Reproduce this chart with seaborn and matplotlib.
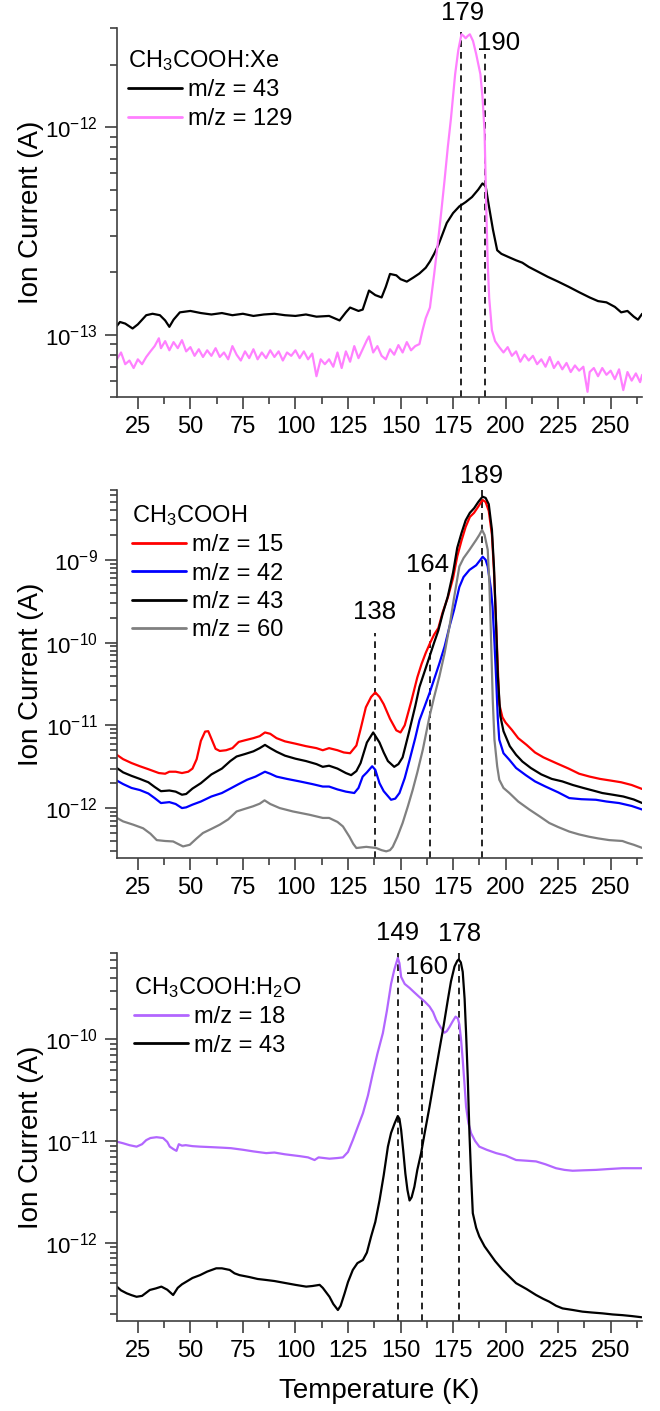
import matplotlib
matplotlib.use("Agg")
import matplotlib.pyplot as plt
import seaborn as sns
import numpy as np
from matplotlib.ticker import MultipleLocator, LogLocator, NullFormatter

# ---- panel 1: CH3COOH:Xe ----
xe_t43 = [15, 16.5, 19, 22.5, 25, 29, 32, 35.5, 38, 40, 42, 45, 50, 55, 60, 65, 70, 75, 80, 85, 90, 95,
          100, 105, 110, 116, 121, 124, 126, 130, 132, 135, 138, 141, 143, 145, 148, 150, 153, 156, 159,
          162, 164, 166, 168, 170, 172, 175, 178, 181, 184, 187, 189, 190.5, 192, 194, 196, 198, 202, 205,
          208, 211, 215, 220, 225, 230, 235, 240, 244, 248, 252, 255, 258, 261, 263, 265]
xe_i43 = [1.10, 1.15, 1.13, 1.07, 1.12, 1.24, 1.26, 1.24, 1.17, 1.09, 1.18, 1.28, 1.30, 1.27, 1.25, 1.27,
          1.24, 1.26, 1.23, 1.25, 1.26, 1.24, 1.23, 1.25, 1.22, 1.23, 1.17, 1.28, 1.35, 1.30, 1.32, 1.63,
          1.55, 1.51, 1.70, 1.96, 1.93, 1.85, 1.80, 1.88, 1.97, 2.10, 2.25, 2.45, 2.70, 3.05, 3.45, 3.85,
          4.15, 4.35, 4.6, 5.0, 5.35, 5.2, 4.2, 3.2, 2.55, 2.45, 2.35, 2.28, 2.22, 2.12, 2.02, 1.90, 1.80,
          1.70, 1.60, 1.51, 1.45, 1.43, 1.36, 1.28, 1.30, 1.22, 1.18, 1.26]  # x 1e-13

xe_t129 = [15, 17, 19, 21, 23, 25, 27, 29, 31, 33, 35, 36, 38, 40, 42, 44, 46, 48, 50, 52, 54, 56, 58, 60,
           62, 64, 66, 68, 70, 72, 74, 76, 78, 80, 82, 84, 86, 88, 90, 92, 94, 96, 98, 100, 102, 104, 106,
           108, 110, 112, 114, 116, 118, 120, 122, 124, 126, 128, 130, 132, 134, 135, 137, 139, 141, 143,
           145, 147, 149, 151, 153, 155, 157, 159, 160.5, 162, 164, 166, 168, 169.5, 171, 172.5, 174, 176,
           177.5, 179, 180, 181, 182, 183, 184.5, 186, 188, 189, 190, 190.7, 191.5, 192.2, 193.5, 195, 197,
           199, 201, 203, 205, 207, 209, 211, 213, 215, 217, 219, 221, 223, 225, 227, 229, 231, 233, 235,
           237, 239, 240, 242, 244, 246, 248, 250, 252, 254, 256, 258, 260, 262, 264, 265]
xe_i129 = [7.6, 8.2, 7.2, 7.5, 6.9, 7.6, 7.2, 7.8, 8.3, 8.8, 9.6, 8.6, 9.3, 8.4, 9.2, 8.6, 9.4, 8.3, 8.7,
           7.9, 8.5, 7.8, 8.4, 7.9, 8.6, 7.8, 8.2, 7.6, 8.8, 8.0, 7.5, 8.3, 7.7, 8.5, 7.6, 8.2, 7.7, 8.4,
           7.8, 8.3, 7.5, 8.2, 7.9, 8.4, 7.7, 8.3, 7.6, 8.1, 6.3, 7.6, 7.2, 7.6, 7.0, 8.2, 6.9, 8.3, 7.4,
           8.8, 7.7, 8.5, 9.4, 9.8, 8.2, 8.8, 7.9, 7.6, 8.5, 8.0, 8.9, 8.2, 9.2, 8.4, 8.8, 9.0, 10.5, 12.0,
           13.5, 19.5, 29, 40, 56, 80, 110, 180, 235, 280, 275, 268, 275, 280, 260, 225, 180, 140, 95, 45,
           22, 15, 10.5, 9.3, 8.7, 8.2, 8.7, 7.9, 8.3, 7.4, 8.0, 7.5, 7.9, 7.2, 7.6, 7.0, 7.8, 6.9, 7.4,
           6.8, 7.3, 6.6, 7.1, 6.7, 7.0, 5.3, 6.6, 6.9, 6.3, 6.9, 6.4, 6.7, 6.1, 6.8, 5.4, 6.6, 6.0, 6.5,
           5.9, 6.4]  # x 1e-14

# ---- panel 2: CH3COOH ----
ac_t15 = [15, 18, 22, 26, 30, 35, 38, 40, 43, 46, 49, 51, 53, 55, 57, 58.5, 60, 62, 64, 67, 70, 73, 76, 80,
          83, 85.5, 88, 91, 95, 100, 105, 110, 113, 116, 120, 123, 126, 129, 131, 133.5, 136, 138, 140, 142,
          145, 148, 150, 152, 155, 158, 160, 162, 164, 166, 168, 170, 172.5, 175, 177, 179, 181, 183, 185,
          187, 189, 190.5, 192, 193.5, 194.5, 195.5, 196.3, 197, 198.5, 200, 203, 206, 210, 214, 218, 224,
          230, 235, 240, 245, 250, 255, 260, 265]
ac_i15 = [4.4, 3.9, 3.5, 3.2, 2.95, 2.65, 2.6, 2.75, 2.75, 2.65, 2.75, 3.0, 3.9, 6.5, 8.4, 8.5, 6.9, 5.2, 4.9,
          5.0, 5.3, 6.3, 6.6, 7.0, 7.4, 8.2, 7.9, 7.0, 6.4, 6.0, 5.6, 5.3, 5.0, 5.3, 5.0, 4.7, 4.6, 5.7, 9.0,
          16.5, 22, 25, 22, 18, 12, 8.7, 8.2, 10, 19, 38, 55, 75, 98, 125, 150, 230, 350, 600, 1100, 1700,
          2500, 3300, 3700, 4400, 5300, 5000, 3900, 2000, 700, 170, 50, 18, 12.5, 10.8, 8.8, 7.0, 5.8, 4.7,
          4.1, 3.5, 3.0, 2.6, 2.4, 2.25, 2.15, 2.05, 1.9, 1.7]  # x 1e-12

ac_t42 = [15, 18, 22, 26, 30, 33, 36, 40, 43, 46, 48, 51, 55, 60, 65, 69, 73, 77, 81, 85.5, 88, 91, 96, 102,
          108, 113, 116, 120, 124, 128, 130, 132, 134, 136.5, 138, 140, 142, 145.5, 147.5, 149.5, 152, 154.3,
          157, 159, 161.5, 163.8, 166, 168.5, 171, 173.3, 175.5, 178, 180, 182.8, 186, 188, 189.1, 190.5,
          191.5, 193, 193.8, 194.7, 195.5, 196.3, 197, 199, 201.8, 205, 209.6, 214, 219, 225, 230.3, 236,
          243, 248, 254, 260, 265]
ac_i42 = [2.15, 1.95, 1.75, 1.65, 1.5, 1.32, 1.15, 1.18, 1.12, 1.0, 1.02, 1.1, 1.2, 1.38, 1.52, 1.72, 1.95,
          2.2, 2.4, 2.75, 2.6, 2.4, 2.25, 2.1, 1.95, 1.82, 1.82, 1.68, 1.58, 1.52, 1.75, 2.4, 2.7, 3.2, 2.9,
          2.0, 1.6, 1.26, 1.3, 1.52, 2.3, 3.8, 7.0, 11.5, 17, 24.5, 36, 56, 90, 156, 250, 470, 620, 755,
          860, 1000, 1090, 1000, 830, 450, 270, 100, 37, 12, 6.7, 4.6, 3.83, 3.05, 2.5, 2.1, 1.82, 1.55,
          1.32, 1.28, 1.26, 1.2, 1.15, 1.06, 0.96]  # x 1e-12

ac_t43 = [15, 18, 22, 26, 30, 33, 36, 40, 43, 46, 48, 51, 55, 60, 65, 69, 72, 76, 80, 83, 85.5, 88, 91, 95,
          100, 105, 110, 113, 116, 120, 124, 126.5, 129, 131, 134, 137, 140, 142, 144, 147, 149, 151, 154,
          157, 159, 161.5, 164, 166, 168, 170, 172.5, 175, 177, 179, 181, 183, 185, 187, 189, 190.5, 192,
          193.5, 194.5, 195.5, 196.3, 197.5, 199, 202, 205, 208, 212, 217, 222, 227, 232, 237, 242, 246,
          251, 256, 261, 265]
ac_i43 = [3.05, 2.7, 2.45, 2.25, 2.05, 1.8, 1.6, 1.63, 1.58, 1.45, 1.48, 1.72, 2.0, 2.55, 3.0, 3.7, 4.2, 4.5,
          4.85, 5.3, 5.8, 5.3, 4.8, 4.3, 3.95, 3.7, 3.4, 3.15, 3.25, 3.0, 2.65, 2.5, 2.8, 3.5, 6.2, 8.2, 6.2,
          4.7, 3.7, 3.15, 3.4, 4.1, 8.2, 17, 29, 45, 70, 100, 140, 220, 360, 700, 1400, 2100, 3000, 3700,
          4200, 5000, 5800, 5600, 4700, 2300, 800, 160, 40, 13, 8.5, 5.6, 4.4, 3.65, 3.05, 2.55, 2.25, 2.1,
          1.9, 1.75, 1.62, 1.52, 1.45, 1.38, 1.27, 1.15]  # x 1e-12

ac_t60 = [15, 18, 22.8, 27.5, 31, 34, 38, 41.8, 44, 46.5, 49.7, 53, 56, 60, 64, 68, 72, 76, 79.8, 83, 85.3,
          88, 92.5, 98.8, 106.7, 113, 116, 120, 122.6, 125.7, 127.5, 129, 133.7, 138.4, 141, 143.2, 145,
          146.3, 148.5, 151, 153.5, 155.8, 158, 160.6, 163.8, 166, 168.5, 171, 173.3, 175.5, 178, 180,
          182.8, 186, 187.5, 188.8, 190, 191.5, 192.3, 193.1, 193.9, 194.7, 196, 197, 199, 201.8, 206,
          211.3, 216, 220.8, 225, 230.3, 235, 239.8, 244, 249.3, 255.6, 258, 261, 265]
ac_i60 = [7.6, 6.9, 6.3, 5.7, 4.9, 4.1, 4.0, 3.95, 3.7, 3.44, 3.6, 4.3, 5.0, 5.6, 6.3, 7.3, 9.1, 9.8, 10.5,
          11.3, 12.4, 11.2, 10.0, 9.1, 8.3, 7.6, 7.6, 6.8, 6.0, 4.5, 3.7, 3.29, 3.4, 3.29, 3.1, 3.0, 3.1,
          3.4, 4.5, 6.6, 10.5, 16.6, 27, 50.6, 128, 220, 390, 750, 1560, 3500, 8300, 10500, 13200, 17400,
          20000, 23000, 20000, 13200, 5000, 1080, 200, 67, 32, 22, 17.5, 15.2, 12, 9.6, 8, 6.6, 5.9, 5.2,
          4.8, 4.5, 4.3, 4.1, 4.0, 3.8, 3.6, 3.3]  # x 1e-13

# ---- panel 3: CH3COOH:H2O ----
w_t18 = [15, 18, 21, 24.4, 27, 29, 31, 33.9, 37, 39, 40.2, 42, 43.4, 44, 44.5, 46, 47.8, 51, 54.6, 60, 65,
         69.3, 75, 80, 86.1, 90, 95, 102, 106, 109.1, 111, 116.2, 120, 122.6, 125, 127.3, 129.5, 132.1,
         134.5, 136.8, 139, 141.6, 143.5, 145.5, 147, 148.7, 149.5, 150.3, 152, 154.3, 156.5, 159, 161.5,
         163.8, 165.5, 167, 169, 170.9, 172, 173.3, 174.8, 176.2, 177.3, 178, 178.8, 179.6, 180.5, 181.2,
         182.3, 183.6, 185.5, 187.5, 191, 195.5, 200, 205, 210, 214.5, 219, 224, 228, 231.9, 237, 243, 249,
         255.6, 260, 265]
w_i18 = [9.85, 9.5, 9.1, 8.8, 9.3, 10.2, 10.7, 10.9, 10.7, 9.8, 8.8, 8.3, 8.0, 8.7, 9.3, 9.0, 9.1, 8.9, 8.8,
         8.7, 8.6, 8.5, 8.2, 7.9, 7.6, 7.7, 7.4, 7.1, 6.9, 6.5, 6.9, 6.7, 6.8, 6.9, 7.8, 10.2, 13.5, 18.7,
         28, 46, 72, 115, 190, 350, 480, 630, 560, 410, 350, 320, 290, 260, 235, 210, 185, 155, 132, 116,
         120, 132, 150, 167, 160, 140, 100, 63, 35, 21.7, 15, 11.9, 10, 8.8, 8.2, 7.6, 7.2, 6.5, 6.4, 6.3,
         5.9, 5.4, 5.2, 5.1, 5.15, 5.2, 5.3, 5.4, 5.4, 5.4]  # x 1e-12

w_t43 = [15, 17, 19.7, 22, 24.4, 27, 30.7, 33.5, 36.2, 39, 41.8, 44, 46, 48.1, 51, 54.6, 58, 62.3, 65, 68.7,
         71, 73.4, 78, 82, 86.1, 90, 95.6, 100, 105.1, 108, 111.5, 113, 116.2, 118, 120.2, 121.5, 123.4, 125,
         127.3, 129.5, 132.1, 134, 136, 138, 140, 142, 144, 145.5, 147.2, 148.7, 149.5, 150.3, 151.3, 152.3,
         153.3, 154.3, 155.3, 156.6, 158, 159.8, 161.5, 163.8, 166, 168.5, 170.5, 172.5, 174, 175.7, 177,
         177.7, 178.7, 179.6, 180.5, 181.2, 182, 182.8, 183.6, 184.4, 186, 187.5, 190, 192.3, 195, 198.6,
         202, 205, 210, 214.5, 218, 220.8, 224, 227.1, 232, 236.6, 241, 246.1, 251, 255.6, 260, 264.7]
w_i43 = [3.7, 3.4, 3.18, 3.05, 2.94, 3.0, 3.43, 3.55, 3.7, 3.45, 3.06, 3.6, 3.9, 4.14, 4.5, 4.8, 5.2, 5.6,
         5.6, 5.4, 5.0, 4.8, 4.6, 4.4, 4.3, 4.2, 4.0, 3.85, 3.7, 3.75, 3.85, 3.6, 2.94, 2.5, 2.18, 2.4, 3.18,
         4.1, 5.4, 6.3, 6.76, 8.0, 11.5, 16, 26, 46, 88, 120, 149, 176, 165, 128, 80, 48, 33, 26, 28, 35.5,
         52, 76, 120, 217, 400, 790, 1350, 2430, 3700, 5200, 5900, 6100, 5700, 4600, 2500, 1150, 420, 119,
         45, 19.5, 14, 11.5, 9.2, 7.9, 6.6, 5.4, 4.6, 4.0, 3.5, 3.06, 2.8, 2.63, 2.4, 2.26, 2.18, 2.1, 2.06,
         2.02, 1.97, 1.94, 1.9, 1.85]  # x 1e-13

# peak markers
xe_peaks = [179, 190]
ac_peaks = [138, 164, 189]
w_peaks = [149, 160, 178]

sns.set_theme(style="ticks")
plt.rcParams['font.family'] = ['Liberation Sans', 'DejaVu Sans']
plt.rcParams['mathtext.fontset'] = 'custom'
plt.rcParams['mathtext.rm'] = 'Liberation Sans'
plt.rcParams['mathtext.it'] = 'Liberation Sans:italic'
plt.rcParams['mathtext.bf'] = 'Liberation Sans:bold'
plt.rcParams['text.color'] = 'black'
plt.rcParams['axes.labelcolor'] = 'black'

spine_col = '#404040'

fig = plt.figure(figsize=(6.6, 14.11), dpi=100)
ax1 = fig.add_axes([0.177, 0.7186, 0.796, 0.2615])
ax2 = fig.add_axes([0.177, 0.392, 0.796, 0.2608])
ax3 = fig.add_axes([0.177, 0.0638, 0.796, 0.261])


def style_axis(ax, ylim):
    ax.set_yscale('log')
    ax.set_xlim(15, 265)
    ax.set_ylim(*ylim)
    ax.xaxis.set_major_locator(MultipleLocator(25))
    ax.xaxis.set_minor_locator(MultipleLocator(12.5))
    ax.yaxis.set_major_locator(LogLocator(base=10))
    ax.yaxis.set_minor_locator(LogLocator(base=10, subs=np.arange(2, 10)))
    ax.yaxis.set_minor_formatter(NullFormatter())
    for s in ['top', 'right']:
        ax.spines[s].set_visible(False)
    for s in ['left', 'bottom']:
        ax.spines[s].set_color(spine_col)
        ax.spines[s].set_linewidth(1.2)
    ax.tick_params(which='major', direction='out', length=8.5, width=1.2, color=spine_col,
                   labelcolor='black', pad=5)
    ax.tick_params(axis='x', which='major', labelsize=17)
    ax.tick_params(axis='y', which='major', labelsize=16)
    ax.tick_params(which='minor', direction='out', length=5, width=1.2, color=spine_col)
    ax.set_ylabel('Ion Current (A)', fontsize=20)
    ax.yaxis.set_label_coords(-0.138, 0.5)
    ax.set_xlabel('')


def draw_line(ax, t, v, scale, color, label):
    sns.lineplot(x=t, y=np.array(v) * scale, color=color, lw=1.6, label=label, ax=ax)


def mark_peaks(ax, peaks, tops, label_pos):
    for p, top, (lx, ly) in zip(peaks, tops, label_pos):
        ax.axvline(p, ymin=0, ymax=top, color='black', ls=(0, (4, 3)), lw=1.2, zorder=1)
        ax.text(lx, ly, str(p), transform=ax.get_xaxis_transform(), ha='center', va='center',
                fontsize=18.5, color='black')


def add_legend(ax, title, anchor, order=None):
    h, l = ax.get_legend_handles_labels()
    if order is not None:
        h = [h[i] for i in order]
        l = [l[i] for i in order]
    leg = ax.legend(h, l, title=title, loc='upper left', bbox_to_anchor=anchor, frameon=False,
                    fontsize=17, title_fontsize=17, handlelength=2.3, handletextpad=0.25,
                    labelspacing=0.27, borderaxespad=0.0, borderpad=0.4, alignment='left')
    for line in leg.get_lines():
        line.set_linewidth(2.0)


# panel 1
draw_line(ax1, xe_t43, xe_i43, 1e-13, 'black', 'm/z = 43')
draw_line(ax1, xe_t129, xe_i129, 1e-14, '#ff80ff', 'm/z = 129')
style_axis(ax1, (5e-14, 3e-12))
mark_peaks(ax1, xe_peaks, [0.99, 0.93], [(179.4, 1.04), (196.6, 0.96)])
add_legend(ax1, r'CH$_3$COOH:Xe', (0.003, 0.971))

# panel 2
draw_line(ax2, ac_t15, ac_i15, 1e-12, '#ff0000', 'm/z = 15')
draw_line(ax2, ac_t42, ac_i42, 1e-12, '#0000ff', 'm/z = 42')
draw_line(ax2, ac_t60, ac_i60, 1e-13, '#808080', 'm/z = 60')
draw_line(ax2, ac_t43, ac_i43, 1e-12, 'black', 'm/z = 43')
style_axis(ax2, (2.5e-13, 7e-9))
mark_peaks(ax2, ac_peaks, [0.61, 0.76, 1.0], [(137.6, 0.667), (162.7, 0.796), (188.8, 1.038)])
add_legend(ax2, r'CH$_3$COOH', (0.011, 0.99), order=[0, 1, 3, 2])

# panel 3
draw_line(ax3, w_t18, w_i18, 1e-12, '#b266ff', 'm/z = 18')
draw_line(ax3, w_t43, w_i43, 1e-13, 'black', 'm/z = 43')
style_axis(ax3, (1.7e-13, 7.1e-10))
mark_peaks(ax3, w_peaks, [1.0, 0.935, 1.0], [(148.7, 1.053), (162.2, 0.962), (178, 1.05)])
add_legend(ax3, r'CH$_3$COOH:H$_2$O', (0.0145, 0.965))
ax3.set_xlabel('Temperature (K)', fontsize=20, labelpad=12)

fig.savefig('out.png', dpi=100)
